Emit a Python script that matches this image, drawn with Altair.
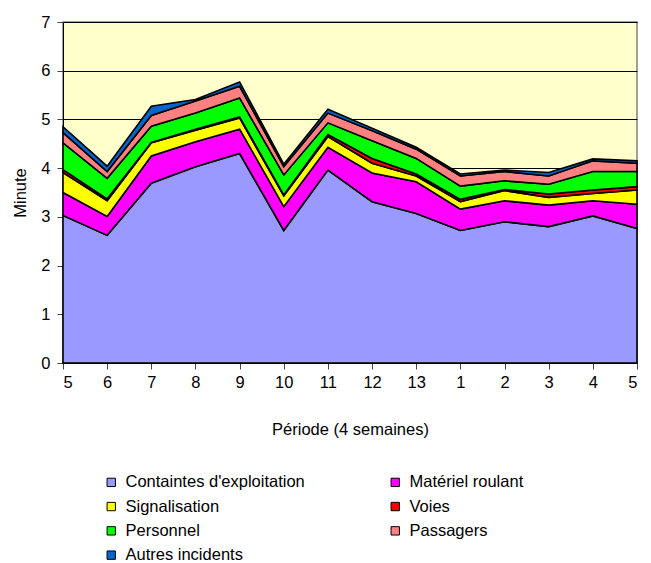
import altair as alt
import pandas as pd

# Period labels (4-week periods)
periodes = ["5", "6", "7", "8", "9", "10", "11", "12", "13", "1", "2", "3", "4", "5"]

# Minutes of delay per cause, per period
contraintes = [3.03, 2.62, 3.69, 4.03, 4.30, 2.72, 3.96, 3.31, 3.07, 2.72, 2.90, 2.80, 3.02, 2.76]
materiel = [0.47, 0.39, 0.56, 0.51, 0.50, 0.49, 0.47, 0.59, 0.65, 0.44, 0.43, 0.44, 0.31, 0.50]
signalisation = [0.41, 0.32, 0.27, 0.24, 0.23, 0.22, 0.22, 0.20, 0.12, 0.15, 0.21, 0.16, 0.15, 0.29]
voies = [0.06, 0.04, 0.01, 0.02, 0.02, 0.02, 0.04, 0.10, 0.04, 0.05, 0.02, 0.07, 0.07, 0.07]
personnel = [0.55, 0.42, 0.33, 0.33, 0.39, 0.41, 0.24, 0.36, 0.32, 0.27, 0.18, 0.20, 0.38, 0.31]
passagers = [0.21, 0.14, 0.22, 0.25, 0.24, 0.17, 0.20, 0.21, 0.19, 0.21, 0.19, 0.17, 0.22, 0.17]
autres = [0.12, 0.11, 0.19, 0.03, 0.09, 0.05, 0.08, 0.05, 0.04, 0.04, 0.03, 0.07, 0.04, 0.05]

# Series in stacking order (bottom to top)
series = [
    "Containtes d'exploitation", "Matériel roulant", "Signalisation", "Voies",
    "Personnel", "Passagers", "Autres incidents",
]
couleurs = ["#9999FF", "#FF00FF", "#FFFF00", "#FF0000", "#00FF00", "#FF8080", "#0066CC"]
valeurs = [contraintes, materiel, signalisation, voies, personnel, passagers, autres]

# Legend grid is filled column by column, so list entries so that rows read
# left-to-right in stacking order.
legend_order = [0, 2, 4, 6, 1, 3, 5]
legend_domain = [series[k] for k in legend_order]
legend_range = [couleurs[k] for k in legend_order]

rows = []
for k, (nom, vals) in enumerate(zip(series, valeurs)):
    for i, v in enumerate(vals):
        rows.append({"i": i, "serie": nom, "ordre": k, "minutes": v})
df = pd.DataFrame(rows)

label_expr = "[" + ",".join(f"'{p}'" for p in periodes) + "][datum.value]"
FONT = "Liberation Sans"

chart = alt.Chart(df).mark_area(
    stroke="black", strokeWidth=1.6, strokeJoin="miter", interpolate="linear"
).encode(
    x=alt.X(
        "i:Q",
        scale=alt.Scale(domain=[0, 13], nice=False, zero=False),
        axis=alt.Axis(
            values=list(range(14)), labelExpr=label_expr, title="Période (4 semaines)",
            grid=False, tickSize=6, labelPadding=5, titlePadding=31,
            domainColor="black", tickColor="#444444",
        ),
    ),
    y=alt.Y(
        "minutes:Q",
        stack="zero",
        scale=alt.Scale(domain=[0, 7], nice=False),
        axis=alt.Axis(
            values=list(range(8)), title="Minute", grid=True, gridColor="black",
            gridWidth=1, tickSize=6, labelPadding=7, titlePadding=12,
            domainColor="black", tickColor="#444444",
        ),
    ),
    color=alt.Color(
        "serie:N",
        scale=alt.Scale(domain=legend_domain, range=legend_range),
        legend=alt.Legend(
            title=None, orient="none", legendX=40, legendY=452, columns=2,
            columnPadding=82, rowPadding=7.3, symbolType="square", symbolSize=70,
            symbolStrokeColor="black", symbolStrokeWidth=1, labelFontSize=16.5,
            labelFont=FONT, labelColor="black", labelOffset=6, symbolOpacity=1,
            labelLimit=300,
        ),
    ),
    order=alt.Order("ordre:Q", sort="ascending"),
).properties(
    width=574,
    height=341,
    background="white",
    padding={"left": 63, "top": 22, "right": 14, "bottom": 200},
    autosize=alt.AutoSizeParams(type="none"),
).configure_view(
    fill="#FFFFCC", stroke="#808080", strokeWidth=1.5
).configure_axis(
    labelFont=FONT, titleFont=FONT, labelFontSize=16.5, titleFontSize=16.5,
    labelColor="black", titleColor="black", titleFontWeight="normal",
)

chart.save("out.html", embed_options={"renderer": "svg", "actions": False})
